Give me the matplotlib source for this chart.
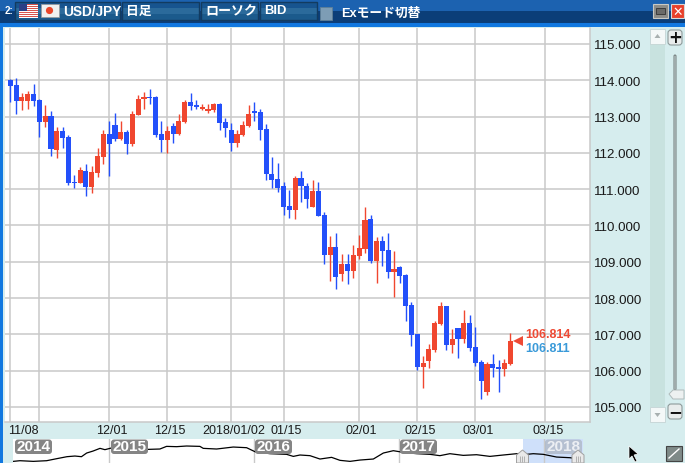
import numpy as np
import matplotlib
matplotlib.use("Agg")
import matplotlib.pyplot as plt
from matplotlib.patches import Rectangle, FancyBboxPatch, Circle, Polygon
from matplotlib.transforms import ScaledTranslation

plt.rcParams['font.family'] = ['Liberation Sans', 'Noto Sans CJK JP', 'DejaVu Sans']

# ---- daily candles, USD/JPY ----
tops = [114.01,113.87,113.54,113.62,113.62,113.46,113.02,113.02,112.61,112.61,112.44,111.20,111.53,111.50,111.48,111.92,112.52,112.52,112.77,112.58,112.58,113.07,113.49,113.54,113.54,113.54,112.52,112.61,112.74,112.88,113.40,113.40,113.32,113.27,113.21,113.35,113.35,112.85,
        112.62,112.51,112.76,113.06,113.15,113.12,112.65,111.43,111.27,111.10,110.55,111.30,111.30,111.10,110.94,110.94,110.30,109.42,109.42,108.95,108.95,109.20,109.39,110.16,110.19,109.56,109.56,109.33,108.81,108.86,
        108.64,107.82,107.02,106.22,106.61,107.32,107.79,107.79,106.88,107.18,107.32,107.32,106.66,106.25,106.19,106.19,106.11,106.22,106.81]
bottoms = [113.84,113.43,113.43,113.43,113.43,112.85,112.85,112.11,112.08,112.41,111.17,111.17,111.17,111.06,111.06,111.45,111.89,112.25,112.39,112.39,112.25,112.25,113.05,113.49,113.51,112.50,112.36,112.36,112.52,112.52,112.85,113.29,113.27,113.21,113.16,113.18,112.83,112.69,
           112.26,112.26,112.48,112.73,113.09,112.62,111.41,111.24,111.02,110.52,110.44,110.44,111.08,110.74,110.52,110.27,109.20,109.20,108.59,108.67,108.75,108.75,109.17,109.36,109.03,109.03,109.31,108.73,108.73,108.62,
           107.79,106.99,106.11,106.11,106.28,106.58,107.29,106.72,106.72,106.88,106.88,106.63,106.22,105.73,105.40,106.08,106.06,106.06,106.19]
highs = [114.04,114.06,113.65,113.71,113.90,113.49,113.32,113.16,112.72,112.72,112.50,111.39,111.61,111.70,111.64,112.14,112.63,112.88,113.10,112.88,112.63,113.16,113.60,113.68,113.76,113.57,112.88,112.74,112.83,113.07,113.46,113.65,113.46,113.35,113.35,113.38,113.38,112.96,
         112.82,112.62,112.87,113.31,113.40,113.20,112.79,111.90,111.71,111.21,110.99,111.35,111.49,111.16,111.24,111.19,110.36,109.72,109.78,109.22,109.22,109.45,109.75,110.50,110.30,109.67,109.72,109.80,109.31,108.89,
         108.67,107.90,107.02,106.41,106.74,107.38,107.90,107.79,107.16,107.18,107.68,107.54,107.21,106.30,106.25,106.47,106.30,106.33,107.05]
lows = [113.39,113.08,113.19,113.21,113.30,112.44,112.72,111.92,111.87,112.14,111.12,111.04,111.17,110.82,110.90,111.34,111.70,111.37,112.33,112.36,111.97,112.19,113.05,113.21,113.35,112.44,112.03,112.00,112.28,112.50,112.83,113.18,113.21,113.18,113.10,113.13,112.63,112.44,
        112.04,112.15,112.46,112.71,112.87,112.35,111.24,111.02,110.91,110.30,110.22,110.19,110.66,110.47,110.50,110.25,108.95,108.48,108.26,108.48,108.40,108.56,109.09,109.25,108.98,108.42,108.89,108.56,108.04,108.42,
        107.38,106.69,106.03,105.53,106.08,106.52,107.27,106.58,106.50,106.36,106.77,106.55,106.14,105.23,105.34,105.84,105.42,105.86,106.17]
up_days = [3,4,7,9,13,15,16,17,20,22,23,24,28,30,31,34,35,36,40,41,42,50,53,56,58,60,61,62,64,67,72,73,74,75,77,79,83,86,87]

# ---- axis labels ----
date_ticks = [0, 5, 17, 27, 38, 47, 60, 70, 80, 92]
date_labels = ['11/08', '', '12/01', '12/15', '2018/01/02', '01/15', '02/01', '02/15', '03/01', '03/15']
price_ticks = [105, 106, 107, 108, 109, 110, 111, 112, 113, 114, 115]
ask_price = 106.814
bid_price = 106.811

# ---- long-range navigator ----
nav_years = [2014.34,2014.386,2014.478,2014.57,2014.64,2014.71,2014.765,2014.81,2014.846,2014.89,2014.938,2014.972,2015.007,2015.041,2015.168,2015.271,2015.351,2015.397,2015.466,2015.535,2015.627,2015.65,2015.742,2015.857,2015.949,2016.007,2016.11,2016.225,2016.271,2016.317,2016.386,2016.455,2016.535,2016.593,2016.662,2016.731,2016.823,2016.892,2016.961,2017.03,2017.122,2017.214,2017.282,2017.351,2017.443,2017.535,2017.627,2017.719,2017.811,2017.857,2017.926,2017.995,2018.087,2018.179,2018.248]
nav_price = [99.4,100.5,99.4,100.5,103.9,107.2,108.3,107.2,113.3,116.6,121.1,118.9,121.1,123.3,120.0,119.4,120.0,124.4,123.9,125.0,124.4,121.1,120.0,123.3,122.2,115.5,112.2,111.1,107.7,110.0,108.9,103.3,106.1,101.1,99.4,101.6,103.3,113.3,117.2,114.4,112.2,111.1,108.9,112.2,109.4,110.5,107.7,110.0,112.2,110.5,112.2,111.1,106.6,105.5,103.3]
nav_boundaries = [2015, 2016, 2017, 2018]
nav_labels = ['2014', '2015', '2016', '2017', '2018']

W, H = 685, 464
fig = plt.figure(figsize=(W / 100, H / 100), dpi=100)
BG = '#D6EDEE'
fig.patch.set_facecolor(BG)
px = lambda x0, y0, x1, y1: [x0 / W, 1 - y1 / H, (x1 - x0) / W, (y1 - y0) / H]

# background chrome
bg = fig.add_axes([0, 0, 1, 1], zorder=0)
bg.set_xlim(0, W); bg.set_ylim(H, 0); bg.axis('off')
grad = np.array([[0.0], [1.0]])
cmap = matplotlib.colors.LinearSegmentedColormap.from_list('t', ['#1C62B0', '#0B3E78'])
bg.imshow(grad, extent=(0, W, 24, 0), aspect='auto', cmap=cmap, zorder=1)
bg.set_xlim(0, W); bg.set_ylim(H, 0)
bg.add_patch(Rectangle((0, 24), W, 4, fc='#1178E0', ec='none', zorder=2))
bg.add_patch(Rectangle((0, 24), 3.5, H - 24, fc='#1178E0', ec='none', zorder=2))
bg.text(5, 11, '2:', color='white', fontsize=7, fontweight='bold', va='center', zorder=5)
btn = matplotlib.colors.LinearSegmentedColormap.from_list('b', ['#17548F', '#2F6F9F', '#1B5A8C'])
for x0, x1 in [(15, 120), (122, 199), (201, 258), (260, 317)]:
    bg.imshow(np.array([[0.0], [0.6], [1.0]]), extent=(x0, x1, 21, 3), aspect='auto', cmap=btn, zorder=3)
    bg.add_patch(Rectangle((x0, 3), x1 - x0, 18, fc='none', ec='#123B60', lw=1, zorder=4))
bg.set_xlim(0, W); bg.set_ylim(H, 0)
# flags
for i in range(7):
    bg.add_patch(Rectangle((19, 5 + i * 2), 19, 1, fc='#D8534E', ec='none', zorder=4))
    bg.add_patch(Rectangle((19, 6 + i * 2), 19, 1, fc='white', ec='none', zorder=4))
bg.add_patch(Rectangle((19, 5), 8, 7, fc='#2B3F86', ec='none', zorder=5))
bg.add_patch(Rectangle((41, 5), 18, 13, fc='#F0F0F0', ec='#999999', lw=0.5, zorder=4))
bg.add_patch(Circle((49.5, 11.5), 3.6, fc='#E8452A', ec='none', zorder=5))
kw = dict(color='white', fontweight='bold', va='center', zorder=5)
bg.text(63, 11.5, 'USD/JPY', fontsize=9.8, **kw)
bg.text(126, 11.5, '日足', fontsize=9.2, **kw)
bg.text(205, 11.5, 'ローソク', fontsize=9.4, **kw)
bg.text(264, 11.5, 'BID', fontsize=9.4, **kw)
bg.add_patch(Rectangle((320, 8), 12, 13, fc='#7D9DB5', ec='#5F7F97', lw=0.6, zorder=4))
bg.text(341, 13.5, 'Exモード切替', fontsize=9.2, **kw)
bg.add_patch(Rectangle((653, 5), 15, 14, fc='#8C8C88', ec='#C9C9C4', lw=0.8, zorder=4))
bg.add_patch(Rectangle((656, 9), 9, 6, fc='#6A6A68', ec='#333333', lw=0.6, zorder=5))
bg.add_patch(Rectangle((671, 5), 13, 14, fc='#E8402A', ec='#D8D8D8', lw=0.8, zorder=4))
bg.text(677.5, 12, '✕', color='white', fontsize=9, fontweight='bold', ha='center', va='center',
        family=['DejaVu Sans'], zorder=5)

# right-hand scrollers
bg.add_patch(Rectangle((650, 45), 15, 363, fc='#C8E2DF', ec='none', zorder=2))
for y0, mark in [(30, [(657.5, 35), (654.5, 39), (660.5, 39)]), (408, [(657.5, 418), (654.5, 414), (660.5, 414)])]:
    bg.add_patch(Rectangle((650, y0), 15, 15, fc='#F4F8F8', ec='#C4D4D4', lw=0.6, zorder=3))
    bg.add_patch(Polygon(mark, fc='#A8B0B0', ec='none', zorder=4))
for y0, sym in [(31, '+'), (405, '−')]:
    bg.add_patch(FancyBboxPatch((668, y0), 14, 15, boxstyle='round,pad=0,rounding_size=3', fc='#E8ECEC',
                                ec='#8E9A9A', lw=0.8, zorder=3))
    bg.text(675, y0 + 7, sym, fontsize=12, fontweight='bold', ha='center', va='center', color='#111111',
            family=['DejaVu Sans'], zorder=5)
bg.add_patch(FancyBboxPatch((674, 56), 2, 335, boxstyle='round,pad=0,rounding_size=1', fc='#D0DEDE',
                            ec='#6C7676', lw=0.7, zorder=3))
bg.add_patch(Polygon([(669, 395), (673, 391), (684, 391), (684, 400), (673, 400)], fc='#EDF1F1', ec='#B0BBBB',
                     lw=0.7, zorder=4))
bg.add_patch(Rectangle((666, 447), 16, 15, fc='#7F8A88', ec='#444444', lw=0.8, zorder=3))
bg.plot([669, 679], [459, 450], color='white', lw=1, zorder=4)
bg.add_patch(Polygon([(629, 447), (629, 460), (632, 457), (635, 463), (637, 462), (634, 456), (638, 455)],
                     fc='black', ec='white', lw=0.5, zorder=6))

# main chart
ax = fig.add_axes(px(4.5, 29, 590, 423), zorder=1)
ax.set_facecolor('white')
x_per = 5.814
ax.set_xlim((4.5 - 10.3) / x_per, (590 - 10.3) / x_per)
ax.set_ylim(105 - (423 - 408) / 36.3, 115 + (45 - 29) / 36.3)
idx = np.arange(len(tops))
is_up = np.isin(idx + 1, up_days)
colors = np.where(is_up, '#F0472F', '#2350FA')
ax.vlines(idx, lows, highs, colors=colors, lw=1.0, zorder=3)
ax.bar(idx, np.array(tops) - np.array(bottoms), bottom=bottoms, width=0.88, color=colors, lw=0, zorder=4)
ax.set_xticks(date_ticks, date_labels)
ax.set_yticks(price_ticks, [f'{p:.3f}' for p in price_ticks])
ax.yaxis.tick_right()
ax.grid(True, color='#C9C9C9', lw=1.1, zorder=1)
ax.set_axisbelow(True)
ax.tick_params(axis='both', length=0, labelcolor='#1A1A1A')
ax.tick_params(axis='y', labelsize=9.6, pad=3)
ax.tick_params(axis='x', labelsize=9.0, pad=1.5)
shift = ScaledTranslation(2.5 / 100, 0, fig.dpi_scale_trans)
first_shift = ScaledTranslation(-2.5 / 100, 0, fig.dpi_scale_trans)
for i, lab in enumerate(ax.get_xticklabels()):
    lab.set_transform(lab.get_transform() + (first_shift if i == 0 else shift))
ax.get_xticklabels()[0].set_ha('left')
for s in ax.spines.values():
    s.set_visible(False)
for side in ['bottom', 'right']:
    ax.spines[side].set_visible(True)
    ax.spines[side].set_color('#C9C9C9')
    ax.spines[side].set_linewidth(1.1)
last_x = idx[-1]
ax.annotate(f'{ask_price:.3f}', xy=(last_x, ask_price), xytext=(10.5, 5), textcoords='offset points',
            color='#EE4A35', fontsize=9.0, fontweight='bold', va='center')
ax.annotate(f'{bid_price:.3f}', xy=(last_x, bid_price), xytext=(10.5, -5), textcoords='offset points',
            color='#3A9AD9', fontsize=9.0, fontweight='bold', va='center')
ax.plot([last_x + 1.3], [ask_price], marker='<', ms=6.5, color='#EE4A35', mew=0, zorder=5, clip_on=False)

# navigator
nav = fig.add_axes(px(13, 440, 583, 464), zorder=1)
nav.set_facecolor('white')
nav.set_xlim(2015 + (13 - 109) / 145, 2015 + (583 - 109) / 145)
nav.set_ylim(96.67, 136.7)
nav.axvspan(2015 + (523 - 109) / 145, 2015 + (583 - 109) / 145, color='#CFE0FA', lw=0, zorder=1)
for b in nav_boundaries:
    nav.axvline(b, color='#C9C9C9', lw=1, zorder=2)
nav.plot(nav_years, nav_price, color='black', lw=0.9, zorder=3)
nav.set_xticks([]); nav.set_yticks([])
for s in nav.spines.values():
    s.set_visible(False)

# overlay: year badges and range handles
top = fig.add_axes([0, 0, 1, 1], zorder=2)
top.set_xlim(0, W); top.set_ylim(H, 0); top.axis('off'); top.patch.set_alpha(0)
for lab, x0 in zip(nav_labels, [15, 111, 255, 400, 545]):
    a = 0.35 if lab == '2018' else 1
    top.add_patch(FancyBboxPatch((x0, 440.5), 37, 14.5, boxstyle='round,pad=0,rounding_size=3',
                                 fc='#858585', ec='none', alpha=a, zorder=3))
    top.text(x0 + 18.5, 447.5, lab, color='white', fontsize=11, fontweight='bold', ha='center', va='center',
             alpha=0.75 if lab == '2018' else 1, zorder=4)
for cx in [522.5, 578]:
    top.add_patch(Polygon([(cx - 6, 464), (cx - 6, 456), (cx, 451), (cx + 6, 456), (cx + 6, 464)], fc='#E9E9E9',
                          ec='#A0A0A0', lw=0.7, zorder=5))
    top.vlines([cx - 2, cx, cx + 2], 457, 463, color='#A8A8A8', lw=0.6, zorder=6)

fig.savefig('out.png', dpi=100, facecolor=fig.get_facecolor())
